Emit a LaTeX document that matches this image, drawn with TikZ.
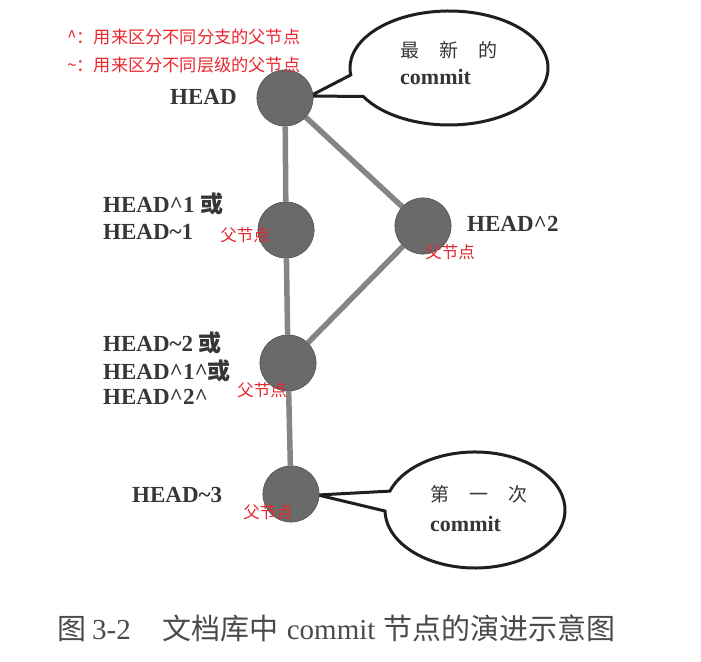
\documentclass[tikz,border=0pt]{standalone}
\usepackage{fontspec}
\setmainfont{Liberation Serif}
\newfontfamily\cjk{Noto Sans CJK SC}
\usetikzlibrary{calc}
\definecolor{lbl}{HTML}{363636}
\definecolor{edgec}{HTML}{858585}
\definecolor{nodec}{HTML}{6A6A6A}
\definecolor{redc}{HTML}{E8262D}
\definecolor{capc}{HTML}{4A4A4A}
\tikzset{
  commitnode/.style={circle,minimum size=56pt,inner sep=0pt,fill=nodec,draw=nodec!85!black,line width=0.6pt},
  edgeline/.style={draw=edgec,line width=5.5pt},
  headlbl/.style={inner sep=0pt,anchor=base west,text=lbl,font=\fontsize{23}{26}\selectfont\bfseries},
  redlbl/.style={inner sep=0pt,text=redc,font=\cjk\fontsize{16.5}{18}\selectfont},
  redhead/.style={inner sep=0pt,anchor=west,text=redc,font=\cjk\fontsize{17.2}{20}\selectfont},
  callout/.style={draw=black!88,fill=white,line width=3pt,line join=miter},
  cjktxt/.style={inner sep=0pt,anchor=west,text=lbl,font=\cjk\fontsize{19}{22}\selectfont},
  committxt/.style={inner sep=0pt,anchor=base west,text=lbl,font=\fontsize{22}{24}\selectfont\bfseries},
}
\begin{document}
\begin{tikzpicture}[x=1pt,y=1pt]
\useasboundingbox (0,0) rectangle (701,661);
% callouts
\coordinate (c1) at (449,593);
\coordinate (t1) at (310,565);
\draw[callout] (t1) -- ($(c1)+(187:99 and 57)$) arc[start angle=187,end angle=-150,x radius=99,y radius=57] -- cycle;
\coordinate (c2) at (475,151);
\coordinate (t2) at (318,166);
\draw[callout] (t2) -- ($(c2)+(161:90 and 58)$) arc[start angle=161,end angle=-179,x radius=90,y radius=58] -- cycle;
% commit nodes
\node[commitnode] (h0) at (285,563) {};
\node[commitnode] (h1) at (286,431) {};
\node[commitnode] (h2) at (423,435) {};
\node[commitnode] (h3) at (288,298) {};
\node[commitnode] (h4) at (291,167) {};
\draw[edgeline] (h0) -- (h1);
\draw[edgeline] (h0) -- (h2);
\draw[edgeline] (h1) -- (h3);
\draw[edgeline] (h2) -- (h3);
\draw[edgeline] (h3) -- (h4);
% redraw nodes on top of edges
\node[commitnode] (h0b) at (h0) {};
\node[commitnode] (h1b) at (h1) {};
\node[commitnode] (h2b) at (h2) {};
\node[commitnode] (h3b) at (h3) {};
\node[commitnode] (h4b) at (h4) {};
% labels
\node[headlbl] (l0) at (170,556) {HEAD};
\node[headlbl] (l1a) at (103,448) {HEAD\textasciicircum1 {\cjk\bfseries 或}};
\node[headlbl] (l1b) at (103,421) {HEAD\textasciitilde1};
\node[headlbl] (l2) at (467,429) {HEAD\textasciicircum2};
\node[headlbl] (l3a) at (103,309) {HEAD\textasciitilde2 {\cjk\bfseries 或}};
\node[headlbl] (l3b) at (103,281) {HEAD\textasciicircum1\textasciicircum{\cjk\bfseries 或}};
\node[headlbl] (l3c) at (103,256) {HEAD\textasciicircum2\textasciicircum};
\node[headlbl] (l4) at (132,158) {HEAD\textasciitilde3};
% callout texts
\node[cjktxt] (e1a) at (400,611) {最\hspace{20pt}新\hspace{20pt}的};
\node[committxt] (e1b) at (400,576) {commit};
\node[cjktxt] (e2a) at (430,167) {第\hspace{20pt}一\hspace{20pt}次};
\node[committxt] (e2b) at (430,129) {commit};
% red annotations
\node[redhead] (r1) at (67,624) {\textasciicircum：用来区分不同分支的父节点};
\node[redhead] (r2) at (67,596) {\textasciitilde：用来区分不同层级的父节点};
\node[redlbl] (f1) at (245,426) {父节点};
\node[redlbl] (f2) at (450,409) {父节点};
\node[redlbl] (f3) at (262,271) {父节点};
\node[redlbl] (f4) at (268,149) {父节点};
% caption
\node[inner sep=0pt,anchor=west,text=capc,font=\fontsize{29}{31}\selectfont] (cap) at (57,33)
  {{\cjk 图}\hspace{6pt}3-2\hspace{32pt}{\cjk 文档库中}\hspace{8pt}commit\hspace{8pt}{\cjk 节点的演进示意图}};
\end{tikzpicture}
\end{document}
